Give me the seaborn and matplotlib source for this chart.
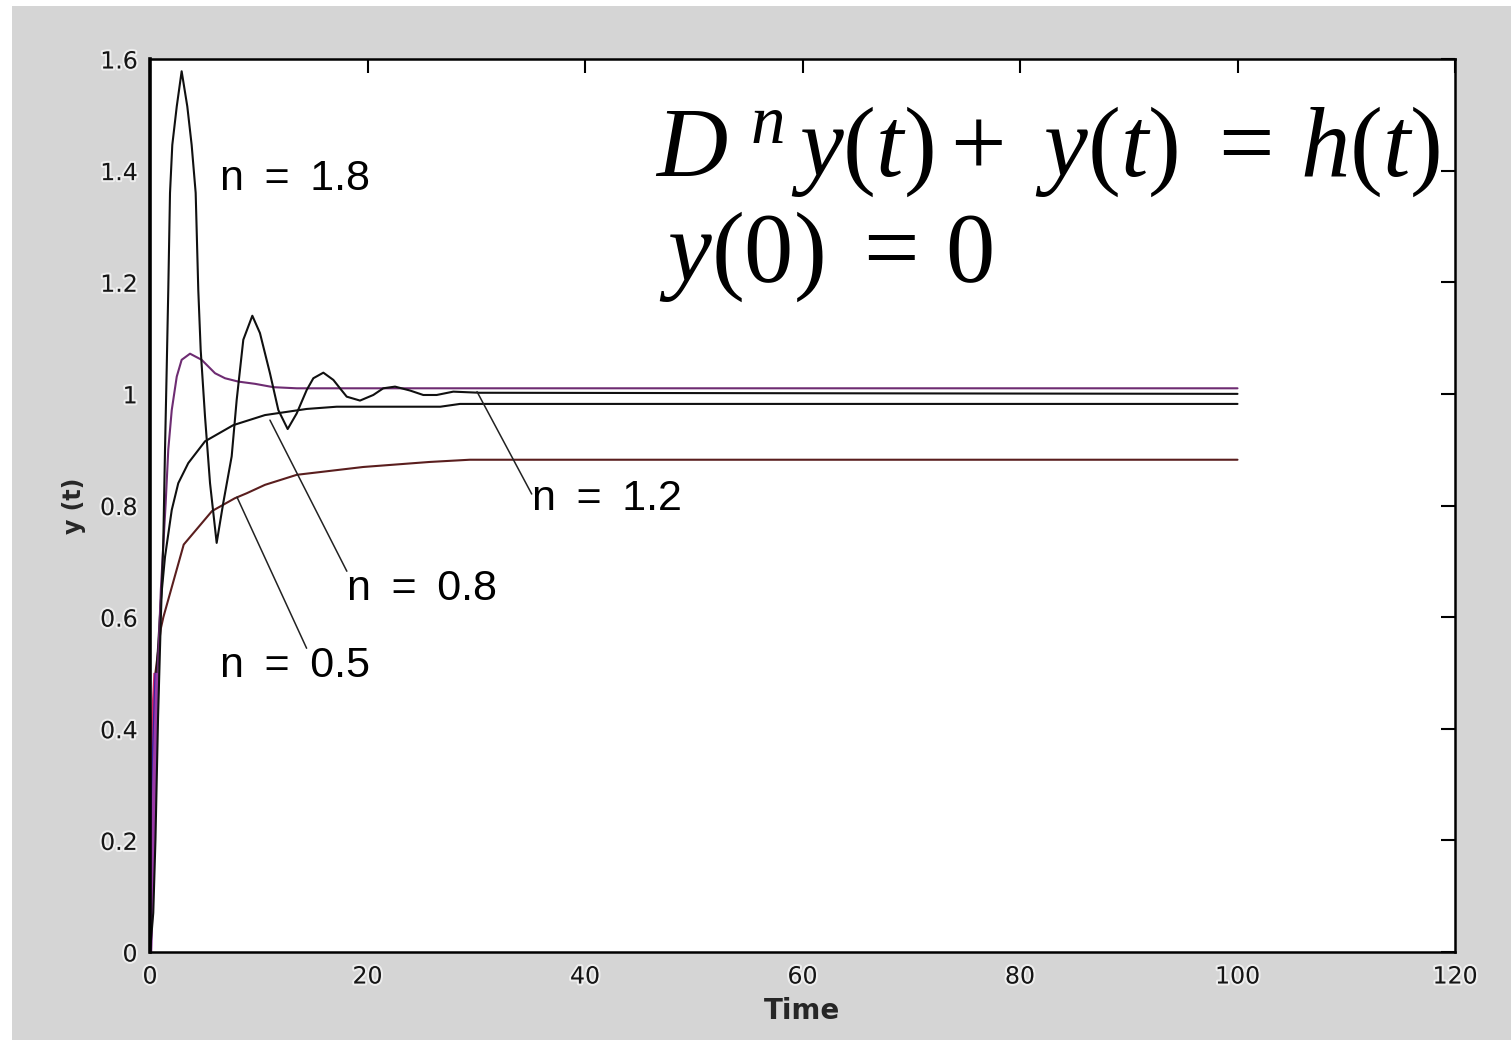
import numpy as np
import pandas as pd
import matplotlib
matplotlib.use("Agg")
import matplotlib.pyplot as plt
import seaborn as sns
from matplotlib import patheffects as pe
from matplotlib.patches import Rectangle

# Step responses of D^n y(t) + y(t) = h(t), y(0) = 0, for several orders n
t_n18 = [0, 0.3, 0.5, 0.74, 1.0, 1.22, 1.38, 1.54, 1.68, 1.84, 2.05, 2.46, 2.91,
         3.43, 3.83, 4.20, 4.44, 4.66, 5.06, 5.52, 6.13, 6.74, 7.51, 7.97, 8.58,
         9.41, 10.11, 11.03, 11.80, 12.66, 13.49, 14.41, 15.02, 15.94, 16.86,
         17.47, 18.09, 19.31, 20.53, 21.45, 22.53, 23.91, 25.13, 26.36, 27.89,
         30.3, 100]
y_n18 = [0, 0.07, 0.20, 0.42, 0.60, 0.733, 0.900, 1.049, 1.186, 1.360, 1.446,
         1.515, 1.578, 1.515, 1.446, 1.360, 1.186, 1.079, 0.959, 0.840, 0.733,
         0.805, 0.888, 0.989, 1.097, 1.140, 1.109, 1.037, 0.971, 0.937, 0.965,
         1.007, 1.028, 1.038, 1.025, 1.010, 0.995, 0.988, 0.998, 1.010, 1.013,
         1.006, 0.998, 0.998, 1.004, 1.002, 1.000]

t_n12 = [0, 0.2, 0.4, 0.7, 1.0, 1.44, 1.68, 2.0, 2.46, 2.91, 3.68, 4.75, 5.98,
         6.90, 8.12, 9.66, 11.34, 13.49, 20, 30, 100]
y_n12 = [0, 0.12, 0.30, 0.50, 0.65, 0.804, 0.900, 0.971, 1.031, 1.061, 1.072,
         1.061, 1.037, 1.028, 1.022, 1.018, 1.012, 1.010, 1.010, 1.010, 1.010]

t_n08 = [0, 0.1, 0.3, 0.6, 1.0, 1.38, 2.0, 2.60, 3.52, 5.06, 7.66, 10.57, 14.41,
         17.17, 26.7, 28.5, 100]
y_n08 = [0, 0.15, 0.32, 0.50, 0.63, 0.708, 0.792, 0.840, 0.876, 0.915, 0.944,
         0.962, 0.973, 0.977, 0.977, 0.982, 0.982]

t_n05 = [0, 0.05, 0.2, 0.5, 1.0, 1.23, 3.1, 5.7, 7.8, 8.9, 10.57, 13.5, 19.6,
         25.7, 29.4, 100]
y_n05 = [0, 0.20, 0.38, 0.50, 0.58, 0.60, 0.73, 0.79, 0.813, 0.822, 0.837,
         0.855, 0.869, 0.878, 0.882, 0.882]

orders = ["1.8", "1.2", "0.8", "0.5"]
line_colors = {"1.8": "#101010", "1.2": "#6e2c72", "0.8": "#101010", "0.5": "#5a1e1e"}
start_colors = {"1.8": "#101010", "1.2": "#9a3aa8", "0.8": "#3a22a0", "0.5": "#d8286a"}

# Curve labels: text position and the point the leader line touches
label_text = ["n \u2009= \u20091.8", "n \u2009= \u20091.2", "n \u2009= \u20090.8", "n \u2009= \u20090.5"]
label_xy = [(6.4, 1.385), (35.1, 0.812), (18.1, 0.650), (6.4, 0.512)]
leader_to = [None, (30.07, 1.004), (11.03, 0.953), (8.0, 0.815)]
leader_rel = [None, (0.0, 0.62), (0.0, 0.95), (0.58, 0.95)]

x_ticks = [0, 20, 40, 60, 80, 100, 120]
y_ticks = [0, 0.2, 0.4, 0.6, 0.8, 1.0, 1.2, 1.4, 1.6]
y_tick_labels = ["0", "0.2", "0.4", "0.6", "0.8", "1", "1.2", "1.4", "1.6"]

frames = []
for n, t, y in zip(orders, [t_n18, t_n12, t_n08, t_n05], [y_n18, y_n12, y_n08, y_n05]):
    frames.append(pd.DataFrame({"Time": t, "y": y, "n": n}))
df = pd.concat(frames, ignore_index=True)

sns.set_theme(style="white")
plt.rcParams["font.family"] = ["DejaVu Sans"]
plt.rcParams["mathtext.fontset"] = "custom"
plt.rcParams["mathtext.rm"] = "Liberation Serif"
plt.rcParams["mathtext.it"] = "Liberation Serif:italic"

fig = plt.figure(figsize=(15.11, 10.4), dpi=100, facecolor="white")
fig.patches.append(Rectangle((12 / 1511, 0), 1, (1040 - 6) / 1040,
                             transform=fig.transFigure, facecolor="#d5d5d5",
                             edgecolor="none", zorder=-10))
ax = fig.add_axes([150 / 1511, 88 / 1040, 1305 / 1511, 893 / 1040])
ax.set_facecolor("white")

for n in ["0.5", "0.8", "1.2", "1.8"]:
    sub = df[df["n"] == n]
    sns.lineplot(data=sub, x="Time", y="y", color=line_colors[n], lw=1.5,
                 estimator=None, sort=False, ax=ax, legend=False)
    early = sub[sub["Time"] <= 0.7]
    if n != "1.8":
        ax.plot(early["Time"], early["y"], color=start_colors[n], lw=3,
                solid_capstyle="butt")

ax.set_xlim(0, 120)
ax.set_ylim(0, 1.6)
ax.set_xticks(x_ticks)
ax.set_xticklabels([str(v) for v in x_ticks])
ax.set_yticks(y_ticks)
ax.set_yticklabels(y_tick_labels)
ax.tick_params(direction="in", length=10, width=1.5, top=True, right=True,
               labelsize=17, colors="black", pad=9)
halo = [pe.withStroke(linewidth=3, foreground="white", alpha=0.6)]
for lab in ax.get_xticklabels() + ax.get_yticklabels():
    lab.set_color("#151515")
    lab.set_path_effects(halo)

for side, sp in ax.spines.items():
    sp.set_visible(True)
    sp.set_color("black")
    sp.set_linewidth(1.8)
ax.spines["left"].set_linewidth(2.6)

ax.set_xlabel("Time", fontsize=20, fontweight="bold", labelpad=6)
ax.set_ylabel("y (t)", fontsize=17, fontweight="bold", labelpad=10)

label_font = ["Liberation Sans", "DejaVu Sans"]
for txt, pos, target, rel in zip(label_text, label_xy, leader_to, leader_rel):
    if target is None:
        ax.text(pos[0], pos[1], txt, fontsize=31, va="center", ha="left",
                family=label_font, color="black")
    else:
        ax.annotate(txt, xy=target, xytext=pos, fontsize=31, va="center",
                    ha="left", family=label_font, color="black",
                    arrowprops=dict(arrowstyle="-", color="#222222", lw=1.1,
                                    shrinkA=0, shrinkB=0, patchA=None,
                                    relpos=rel))

ax.text(0.387, 0.869, r"$D^{\ n}\,y(t)+\ y(t)\ =\,h(t)$",
        transform=ax.transAxes, fontsize=71, va="baseline", ha="left",
        color="black")
ax.text(0.390, 0.752, r"$y(0)\ =\,0$",
        transform=ax.transAxes, fontsize=71, va="baseline", ha="left",
        color="black")

fig.savefig("out.png", dpi=100, facecolor=fig.get_facecolor())
